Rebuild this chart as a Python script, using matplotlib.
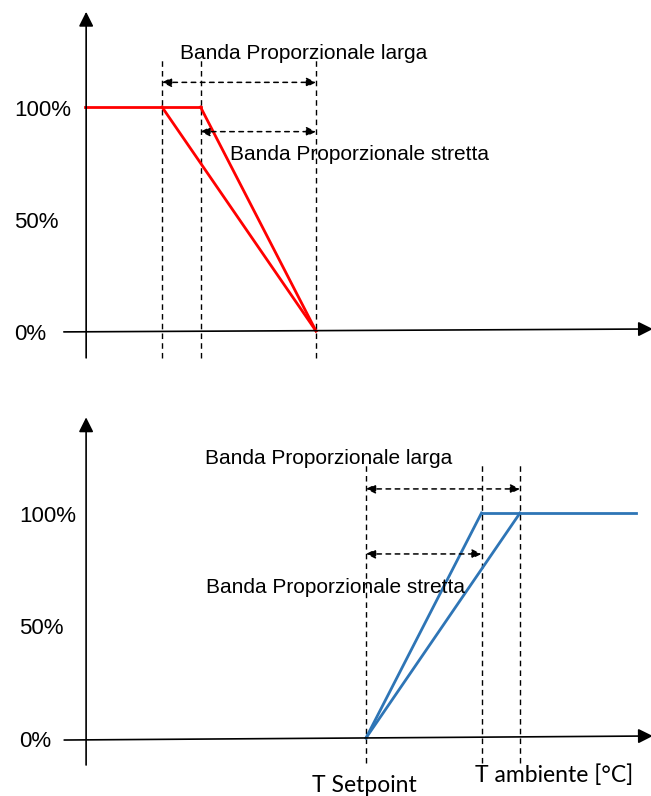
import matplotlib.pyplot as plt

# schematic data: temperature offsets from setpoint [°C] and output [%]
band_larga = 4.0
band_stretta = 3.0
pct_ticks = [100, 50, 0]
pct_labels = ["100%", "50%", "0%"]

# heating (top): output falls to 0% at the setpoint
heat_t_flat = [-6.0, -band_stretta]
heat_p_flat = [100, 100]
heat_t_larga = [-band_larga, 0.0]
heat_t_stretta = [-band_stretta, 0.0]
heat_p_ramp = [100, 0]

# cooling (bottom): output rises from 0% at the setpoint
cool_t_larga = [0.0, band_larga]
cool_t_stretta = [0.0, band_stretta]
cool_p_ramp = [0, 100]
cool_t_flat = [band_stretta, 7.0]
cool_p_flat = [100, 100]

W, H = 651, 796
fig = plt.figure(figsize=(W / 100, H / 100), dpi=100)

ax1 = fig.add_axes([0, 1 - 398 / H, 1, 398 / H])
ax1.set_xlim(-316 / 38.5, (W - 316) / 38.5)
ax1.set_ylim((331 - 398) / 2.24, 331 / 2.24)

ax2 = fig.add_axes([0, 0, 1, 398 / H])
ax2.set_xlim(-366 / 38.5, (W - 366) / 38.5)
ax2.set_ylim((738 - 796) / 2.25, (738 - 398) / 2.25)

for ax in (ax1, ax2):
    ax.axis("off")

txt_font = "Liberation Sans"
lab_font = "Lato"


def arrow(ax, x0, y0, x1, y1, ls="-", lw=1.2, style="-|>", scale=18):
    ax.annotate("", xy=(x1, y1), xytext=(x0, y0), annotation_clip=False,
                arrowprops=dict(arrowstyle=style, color="black", lw=lw,
                                linestyle=ls, mutation_scale=scale,
                                shrinkA=0, shrinkB=0))


def frame(ax, y_axis_x, x_left, x_right, tilt_l, tilt_r, tick_x):
    # y axis with arrow
    arrow(ax, y_axis_x, -12, y_axis_x, 142.5, scale=22)
    # x axis with arrow (slightly tilted like the original drawing)
    arrow(ax, x_left, tilt_l, x_right, tilt_r, scale=22)
    for p, lab in zip(pct_ticks, pct_labels):
        ax.text(tick_x, p - 1.5, lab, ha="left", va="center", fontsize=16,
                family=txt_font)


# ---- top panel (heating) ----
frame(ax1, -5.97, -6.55, 8.75, -0.4, 0.9, -7.85)
for t in [-band_larga, -band_stretta, 0.0]:
    ax1.plot([t, t], [-12, 122], color="black", lw=1, ls=(0, (4, 3)))
ax1.plot(heat_t_flat, heat_p_flat, color="#ff0000", lw=2)
ax1.plot(heat_t_larga, heat_p_ramp, color="#ff0000", lw=2)
ax1.plot(heat_t_stretta, heat_p_ramp, color="#ff0000", lw=2)
arrow(ax1, -band_larga, 111, 0.0, 111, ls=(0, (3, 3)), lw=1.1, style="<|-|>", scale=14)
arrow(ax1, -band_stretta, 89, 0.0, 89, ls=(0, (3, 3)), lw=1.1, style="<|-|>", scale=14)
ax1.text(-0.31, 124, "Banda Proporzionale larga", ha="center", va="center",
         fontsize=15, family=txt_font)
ax1.text(1.14, 79, "Banda Proporzionale stretta", ha="center", va="center",
         fontsize=15, family=txt_font)

# ---- bottom panel (cooling) ----
frame(ax2, -7.27, -7.84, 7.45, -0.9, 0.9, -9.0)
for t in [0.0, band_stretta, band_larga]:
    ax2.plot([t, t], [-11, 122.5], color="black", lw=1, ls=(0, (4, 3)))
ax2.plot(cool_t_larga, cool_p_ramp, color="#2e75b6", lw=2)
ax2.plot(cool_t_stretta, cool_p_ramp, color="#2e75b6", lw=2)
ax2.plot(cool_t_flat, cool_p_flat, color="#2e75b6", lw=2)
arrow(ax2, 0.0, 110.7, band_larga, 110.7, ls=(0, (3, 3)), lw=1.1, style="<|-|>", scale=14)
arrow(ax2, 0.0, 81.8, band_stretta, 81.8, ls=(0, (3, 3)), lw=1.1, style="<|-|>", scale=14)
ax2.text(-0.96, 124.4, "Banda Proporzionale larga", ha="center", va="center",
         fontsize=15, family=txt_font)
ax2.text(-0.8, 67, "Banda Proporzionale stretta", ha="center", va="center",
         fontsize=15, family=txt_font)
ax2.text(-0.05, -21, "T Setpoint", ha="center", va="center", fontsize=16.5,
         family=lab_font)
ax2.text(4.88, -16.5, "T ambiente [°C]", ha="center", va="center", fontsize=16.5,
         family=lab_font)

fig.savefig("out.png", dpi=100)
